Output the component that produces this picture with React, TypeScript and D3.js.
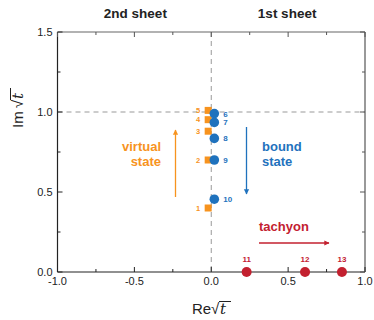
import React from "react";
import * as d3 from "d3";

const xTicks = [-1.0, -0.5, 0.0, 0.5, 1.0];
const yTicks = [0.0, 0.5, 1.0, 1.5];
const xMinor = [-0.75, -0.25, 0.25, 0.75];
const yMinor = [0.25, 0.75, 1.25];

const virtualIds = [1, 2, 3, 4, 5];
const virtualRe = [-0.02, -0.02, -0.02, -0.02, -0.02];
const virtualIm = [0.4, 0.7, 0.88, 0.952, 1.01];

const boundIds = [6, 7, 8, 9, 10];
const boundRe = [0.02, 0.02, 0.02, 0.02, 0.02];
const boundIm = [0.99, 0.935, 0.835, 0.7, 0.455];

const tachyonIds = [11, 12, 13];
const tachyonRe = [0.23, 0.61, 0.85];
const tachyonIm = [0, 0, 0];

const ORANGE = "#f7931e";
const BLUE = "#1f72bd";
const RED = "#c3202f";
const FONT = "'Liberation Sans', Arial, Helvetica, sans-serif";

export default function App() {
  const x = d3.scaleLinear().domain([-1, 1]).range([57.5, 365]);
  const y = d3.scaleLinear().domain([0, 1.5]).range([272, 32]);
  const [x0, x1] = x.range();
  const [yb, yt] = y.range();

  return (
    <svg width={374} height={320} style={{ position: "absolute", left: 0, top: 0 }} fontFamily={FONT}>
      <defs>
        <marker id="ahO" viewBox="0 0 10 10" refX="9" refY="5" markerWidth="4" markerHeight="5" orient="auto" markerUnits="strokeWidth">
          <path d="M0,0 L10,5 L0,10 z" fill={ORANGE} />
        </marker>
        <marker id="ahB" viewBox="0 0 10 10" refX="9" refY="5" markerWidth="4" markerHeight="5" orient="auto" markerUnits="strokeWidth">
          <path d="M0,0 L10,5 L0,10 z" fill={BLUE} />
        </marker>
        <marker id="ahR" viewBox="0 0 10 10" refX="9" refY="5" markerWidth="5" markerHeight="4" orient="auto" markerUnits="strokeWidth">
          <path d="M0,0 L10,5 L0,10 z" fill={RED} />
        </marker>
      </defs>
      <rect width={374} height={320} fill="#fff" />
      {/* titles */}
      <text x={x(-0.5) + 1} y={18} textAnchor="middle" fontSize={13.5} fontWeight="bold" fill="#222">2nd sheet</text>
      <text x={x(0.5) - 1} y={18} textAnchor="middle" fontSize={13.5} fontWeight="bold" fill="#222">1st sheet</text>

      {/* dashed guides */}
      <line x1={x(0)} x2={x(0)} y1={yt} y2={yb} stroke="#999" strokeDasharray="5,4" strokeWidth={1} />
      <line x1={x0} x2={x1} y1={y(1)} y2={y(1)} stroke="#999" strokeDasharray="5,4" strokeWidth={1} />

      {/* frame */}
      <line x1={x0} x2={x1} y1={yt} y2={yt} stroke="#666" strokeWidth={1.2} />
      <line x1={x1} x2={x1} y1={yt} y2={yb} stroke="#555" strokeWidth={1.2} />
      <line x1={x0} x2={x0} y1={yt} y2={yb} stroke="#222" strokeWidth={1.2} />
      <line x1={x0} x2={x1} y1={yb} y2={yb} stroke="#222" strokeWidth={1.2} />

      {/* x ticks */}
      {xTicks.map((t) => (
        <g key={"xt" + t}>
          <line x1={x(t)} x2={x(t)} y1={yb} y2={yb - 5} stroke="#222" />
          <line x1={x(t)} x2={x(t)} y1={yt} y2={yt + 5} stroke="#555" />
          <text x={x(t)} y={yb + 13} textAnchor="middle" fontSize={11} fill="#222">{d3.format(".1f")(t).replace("−", "-")}</text>
        </g>
      ))}
      {xMinor.map((t) => (
        <g key={"xm" + t}>
          <line x1={x(t)} x2={x(t)} y1={yb} y2={yb - 3} stroke="#222" />
          <line x1={x(t)} x2={x(t)} y1={yt} y2={yt + 3} stroke="#555" />
        </g>
      ))}
      {/* y ticks */}
      {yTicks.map((t) => (
        <g key={"yt" + t}>
          <line x1={x0} x2={x0 + 5} y1={y(t)} y2={y(t)} stroke="#222" />
          <line x1={x1} x2={x1 - 5} y1={y(t)} y2={y(t)} stroke="#555" />
          <text x={x0 - 5} y={y(t) + 4} textAnchor="end" fontSize={11} fill="#222">{d3.format(".1f")(t)}</text>
        </g>
      ))}
      {yMinor.map((t) => (
        <g key={"ym" + t}>
          <line x1={x0} x2={x0 + 3} y1={y(t)} y2={y(t)} stroke="#222" />
          <line x1={x1} x2={x1 - 3} y1={y(t)} y2={y(t)} stroke="#555" />
        </g>
      ))}

      {/* axis labels */}
      <g transform="translate(192,314)">
        <text x={0} y={0} fontSize={15} fill="#222">Re</text>
        <text x={19} y={0} fontSize={15} fill="#222">√</text>
        <line x1={27} x2={39} y1={-12.5} y2={-12.5} stroke="#222" strokeWidth={1} />
        <text x={28} y={0} fontSize={15} fontStyle="italic" fontFamily="'DejaVu Serif', serif" fill="#222">t</text>
      </g>
      <g transform="translate(23,128) rotate(-90)">
        <text x={0} y={0} fontSize={15} fill="#222">Im</text>
        <text x={20} y={0} fontSize={15} fill="#222">√</text>
        <line x1={28} x2={40} y1={-12.5} y2={-12.5} stroke="#222" strokeWidth={1} />
        <text x={29} y={0} fontSize={15} fontStyle="italic" fontFamily="'DejaVu Serif', serif" fill="#222">t</text>
      </g>

      {/* virtual states */}
      {virtualIds.map((id, i) => (
        <g key={"v" + id}>
          <rect x={x(virtualRe[i]) - 3.5} y={y(virtualIm[i]) - 3.5} width={7} height={7} fill={ORANGE} />
          <text x={x(virtualRe[i]) - 8} y={y(virtualIm[i]) + 2.5} textAnchor="end" fontSize={7.5} fontWeight="bold" fill={ORANGE}>{id}</text>
        </g>
      ))}
      {/* bound states */}
      {boundIds.map((id, i) => (
        <g key={"b" + id}>
          <circle cx={x(boundRe[i])} cy={y(boundIm[i])} r={4.8} fill={BLUE} />
          <text x={x(boundRe[i]) + 9} y={y(boundIm[i]) + 3} fontSize={8} fontWeight="bold" fill={BLUE}>{id}</text>
        </g>
      ))}
      {/* tachyons */}
      {tachyonIds.map((id, i) => (
        <g key={"t" + id}>
          <circle cx={x(tachyonRe[i])} cy={y(tachyonIm[i])} r={5} fill={RED} />
          <text x={x(tachyonRe[i])} y={y(tachyonIm[i]) - 10} textAnchor="middle" fontSize={8} fontWeight="bold" fill={RED}>{id}</text>
        </g>
      ))}

      {/* annotations */}
      <line x1={175.5} x2={175.5} y1={197} y2={130} stroke={ORANGE} strokeWidth={1.3} markerEnd="url(#ahO)" />
      <text x={161} y={151} textAnchor="end" fontSize={13} fontWeight="bold" fill={ORANGE}>virtual</text>
      <text x={161} y={166} textAnchor="end" fontSize={13} fontWeight="bold" fill={ORANGE}>state</text>

      <line x1={246.5} x2={246.5} y1={127} y2={194} stroke={BLUE} strokeWidth={1.3} markerEnd="url(#ahB)" />
      <text x={262} y={151} fontSize={13} fontWeight="bold" fill={BLUE}>bound</text>
      <text x={262} y={166} fontSize={13} fontWeight="bold" fill={BLUE}>state</text>

      <line x1={259} x2={329} y1={243} y2={243} stroke={RED} strokeWidth={1.3} markerEnd="url(#ahR)" />
      <text x={259} y={231} fontSize={13} fontWeight="bold" fill={RED}>tachyon</text>
    </svg>
  );
}
